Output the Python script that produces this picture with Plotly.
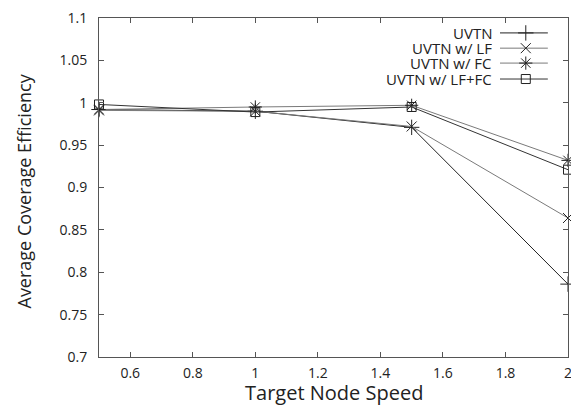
import plotly.graph_objects as go

speeds = [0.5, 1.0, 1.5, 2.0]
uvtn = [0.992, 0.990, 0.971, 0.786]
uvtn_lf = [0.991, 0.990, 0.972, 0.864]
uvtn_fc = [0.992, 0.995, 0.997, 0.932]
uvtn_lffc = [0.998, 0.989, 0.995, 0.921]

names = ["UVTN", "UVTN w/ LF", "UVTN w/ FC", "UVTN w/ LF+FC"]
series = [uvtn, uvtn_lf, uvtn_fc, uvtn_lffc]
symbols = ["cross-thin", "x-thin", "asterisk-open", "square-open"]
sizes = [11, 10, 11, 9]
colors = ["#222222", "#7a7a7a", "#7a7a7a", "#333333"]

x_ticks = [0.6, 0.8, 1.0, 1.2, 1.4, 1.6, 1.8, 2.0]
x_tick_text = ["0.6", "0.8", "1", "1.2", "1.4", "1.6", "1.8", "2"]
y_ticks = [0.7, 0.75, 0.8, 0.85, 0.9, 0.95, 1.0, 1.05, 1.1]
y_tick_text = ["0.7", "0.75", "0.8", "0.85", "0.9", "0.95", "1", "1.05", "1.1"]

font = "Open Sans"
mk = "#222222"
txt = "#222222"
fig = go.Figure()

for n, s, sym, sz, c in zip(names, series, symbols, sizes, colors):
    fig.add_trace(go.Scatter(
        x=speeds, y=s, mode="lines+markers", name=n, showlegend=False,
        line=dict(color=c, width=1),
        marker=dict(symbol=sym, size=sz, color=mk, line=dict(color=mk, width=1)),
        cliponaxis=False,
    ))

# manual gnuplot-style legend (text right, sample at right) on an overlay axis
leg_y = [0.956, 0.911, 0.867, 0.820]
for n, sym, sz, c, ly in zip(names, symbols, sizes, colors, leg_y):
    fig.add_trace(go.Scatter(
        x=[0.855, 0.957], y=[ly, ly], mode="lines", showlegend=False,
        line=dict(color=c, width=1), xaxis="x2", yaxis="y2", hoverinfo="skip"))
    fig.add_trace(go.Scatter(
        x=[0.910], y=[ly], mode="markers", showlegend=False,
        marker=dict(symbol=sym, size=sz, color=mk, line=dict(color=mk, width=1)),
        xaxis="x2", yaxis="y2", hoverinfo="skip"))
    fig.add_annotation(x=0.840, y=ly, xref="x2", yref="y2", text=n,
                       showarrow=False, xanchor="right", yanchor="middle",
                       borderpad=0, height=14,
                       font=dict(family=font, size=15, color=txt))

# axis titles
fig.add_annotation(x=0.5, y=0, xref="paper", yref="paper", yshift=-35,
                   text="Target Node Speed", showarrow=False,
                   xanchor="center", yanchor="middle",
                   font=dict(family=font, size=20, color=txt))
fig.add_annotation(x=0, y=0.5, xref="paper", yref="paper", xshift=-76, yshift=-4,
                   text="Average Coverage Efficiency", showarrow=False, textangle=-90,
                   xanchor="center", yanchor="middle",
                   font=dict(family=font, size=18, color=txt))

axis_common = dict(showline=True, linecolor="#555", linewidth=1, mirror="ticks",
                   ticks="inside", ticklen=5, tickcolor="#555", showgrid=False,
                   zeroline=False, automargin=False, ticklabeloverflow="allow",
                   tickfont=dict(family=font, size=14, color=txt))

fig.update_layout(
    width=571, height=405,
    margin=dict(l=99, r=3, t=18, b=48),
    plot_bgcolor="white", paper_bgcolor="white",
    xaxis=dict(range=[0.5, 2.0], tickvals=x_ticks, ticktext=x_tick_text,
               ticklabelstandoff=3, **axis_common),
    yaxis=dict(range=[0.7, 1.1], tickvals=y_ticks, ticktext=y_tick_text,
               ticklabelstandoff=8, **axis_common),
    xaxis2=dict(range=[0, 1], overlaying="x", visible=False),
    yaxis2=dict(range=[0, 1], overlaying="y", visible=False),
)

fig.write_html("out.html", config={"displayModeBar": False},
               post_script="document.body.style.margin='0';document.body.style.overflow='hidden';")
